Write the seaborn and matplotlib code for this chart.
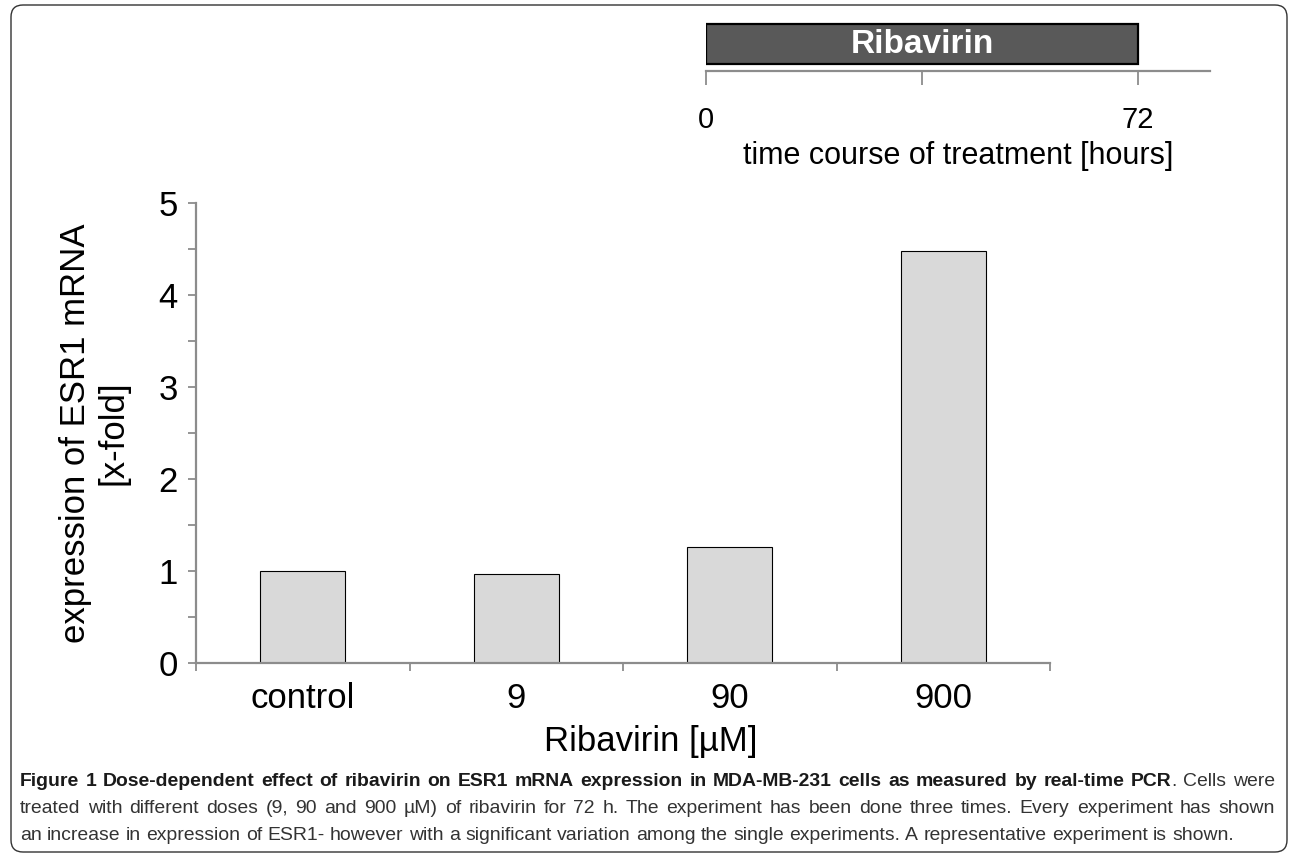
import matplotlib
matplotlib.use('Agg')
import matplotlib.pyplot as plt
import seaborn as sns
import pandas as pd
from matplotlib import font_manager
from matplotlib.patches import FancyBboxPatch
from matplotlib.ticker import MultipleLocator
from matplotlib.transforms import IdentityTransform

# ------------------------------------------------------------
# data
# ------------------------------------------------------------
doses = ['control', '9', '90', '900']
expression = [1.0, 0.97, 1.26, 4.48]          # x-fold ESR1 mRNA
y_ticks = [0, 1, 2, 3, 4, 5]

treatment_start = 0
treatment_end = 72                             # hours of ribavirin
time_ticks = [0, 36, 72]
time_labels = ['0', '', '72']
time_max = 84

caption_bold = ('Figure 1 Dose-dependent effect of ribavirin on ESR1 mRNA expression '
                'in MDA-MB-231 cells as measured by real-time PCR')
caption_rest = '. Cells were'
caption_line2 = ('treated with different doses (9, 90 and 900 \u00b5M) of ribavirin for 72 h. '
                 'The experiment has been done three times. Every experiment has shown')
caption_line3 = ('an increase in expression of ESR1- however with a significant variation '
                 'among the single experiments. A representative experiment is shown.')

# ------------------------------------------------------------
# style
# ------------------------------------------------------------
sns.set_theme(style='white')
plt.rcParams['font.family'] = ['Liberation Sans', 'DejaVu Sans']
plt.rcParams['text.color'] = 'black'
plt.rcParams['axes.labelcolor'] = 'black'

installed = {f.name for f in font_manager.fontManager.ttflist}
cap_font = 'Liberation Sans Narrow' if 'Liberation Sans Narrow' in installed else 'Liberation Sans'

W, H = 1292, 856
fig = plt.figure(figsize=(W / 100, H / 100), dpi=100)
fig.patch.set_facecolor('white')


def px(left, top, right, bottom):
    return [left / W, 1 - bottom / H, (right - left) / W, (bottom - top) / H]


axis_grey = '#8c8c8c'

# ------------------------------------------------------------
# main bar chart
# ------------------------------------------------------------
ax = fig.add_axes(px(196, 203, 1050, 663))
df = pd.DataFrame({'dose': doses, 'expression': expression})
sns.barplot(data=df, x='dose', y='expression', color='#d9d9d9', saturation=1,
            edgecolor='black', linewidth=0.8, width=0.4, ax=ax)

ax.set_xlim(-0.5, len(doses) - 0.5)
ax.set_ylim(0, 5)
for side in ['top', 'right']:
    ax.spines[side].set_visible(False)
for side in ['left', 'bottom']:
    ax.spines[side].set_color(axis_grey)
    ax.spines[side].set_linewidth(1.6)

ax.set_yticks(y_ticks)
ax.yaxis.set_minor_locator(MultipleLocator(0.5))
ax.tick_params(axis='y', which='both', left=True, direction='out', length=6,
               width=1.3, color=axis_grey, labelcolor='black', labelsize=25, pad=7)

ax.set_xticks([i - 0.5 for i in range(len(doses) + 1)])
ax.set_xticklabels([])
ax.set_xticks(range(len(doses)), minor=True)
ax.set_xticklabels(doses, minor=True)
ax.tick_params(axis='x', which='major', bottom=True, direction='out', length=6,
               width=1.3, color=axis_grey)
ax.tick_params(axis='x', which='minor', bottom=False, length=0, labelsize=25,
               labelcolor='black', pad=14)

ax.set_ylabel('expression of ESR1 mRNA\n[x-fold]', fontsize=25, linespacing=1.15)
ax.yaxis.set_label_coords(-0.078, 0.5)
ax.set_xlabel('Ribavirin [\u00b5M]', fontsize=25)
ax.xaxis.set_label_coords(0.533, -0.135)

# ------------------------------------------------------------
# treatment time course on top
# ------------------------------------------------------------
ax2 = fig.add_axes(px(706, 20, 1210, 71))
ax2.barh(0.137, treatment_end - treatment_start, left=treatment_start, height=0.78,
         align='edge', color='#595959', edgecolor='black', linewidth=1.6)
ax2.text((treatment_start + treatment_end) / 2, 0.52, 'Ribavirin', ha='center', va='center',
         color='white', fontsize=24, fontweight='bold')
ax2.set_xlim(0, time_max)
ax2.set_ylim(0, 1)
ax2.set_yticks([])
for side in ['top', 'right', 'left']:
    ax2.spines[side].set_visible(False)
ax2.spines['bottom'].set_color(axis_grey)
ax2.spines['bottom'].set_linewidth(1.6)
ax2.set_xticks(time_ticks)
ax2.set_xticklabels(time_labels)
ax2.tick_params(axis='x', bottom=True, direction='out', length=10, width=1.3,
                color=axis_grey, labelcolor='black', labelsize=21, pad=15)
ax2.set_xlabel('time course of treatment [hours]', fontsize=22, labelpad=5)

# ------------------------------------------------------------
# caption, justified like the journal layout
# ------------------------------------------------------------
renderer = fig.canvas.get_renderer()


def width_of(s, size, weight):
    t = fig.text(0, 0, s, fontsize=size, fontweight=weight, family=cap_font)
    w = t.get_window_extent(renderer).width
    t.remove()
    return w


def tokens_of(text, weight, first_glued=False):
    out = []
    for i, word in enumerate(text.split(' ')):
        out.append((word, weight, not (i == 0 and first_glued)))
    return out


line1 = tokens_of(caption_bold, 'bold') + tokens_of(caption_rest, 'normal', first_glued=True)
line2 = tokens_of(caption_line2, 'normal')
line3 = tokens_of(caption_line3, 'normal')

base = 12
space_w = width_of('a a', base, 'normal') - width_of('aa', base, 'normal')
natural = sum(width_of(w, base, wt) for w, wt, _ in line3) + space_w * (len(line3) - 1)
cap_size = base * (1232 - 20) / natural

x_left, x_right = 20, 1275
colors = {'bold': '#1a1a1a', 'normal': '#333333'}


def draw_line(tokens, baseline, justify):
    widths = [width_of(w, cap_size, wt) for w, wt, _ in tokens]
    n_gaps = sum(1 for k, tok in enumerate(tokens) if tok[2] and k > 0)
    sp = space_w * cap_size / base
    if justify and n_gaps:
        sp = (x_right - x_left - sum(widths)) / n_gaps
    x = x_left
    for k, ((word, wt, gap), w) in enumerate(zip(tokens, widths)):
        if k > 0 and gap:
            x += sp
        fig.text(x / W, 1 - baseline / H, word, fontsize=cap_size, fontweight=wt,
                 family=cap_font, color=colors[wt], ha='left', va='baseline')
        x += w


draw_line(line1, 786, True)
draw_line(line2, 813, True)
draw_line(line3, 840, False)

# rounded frame around the whole figure
frame = FancyBboxPatch((11, H - 852), 1287 - 11, 852 - 5,
                       boxstyle='round,pad=0,rounding_size=12',
                       transform=IdentityTransform(), facecolor='none',
                       edgecolor='#333333', linewidth=1.0)
fig.add_artist(frame)

fig.savefig('out.png', dpi=100, facecolor='white')
